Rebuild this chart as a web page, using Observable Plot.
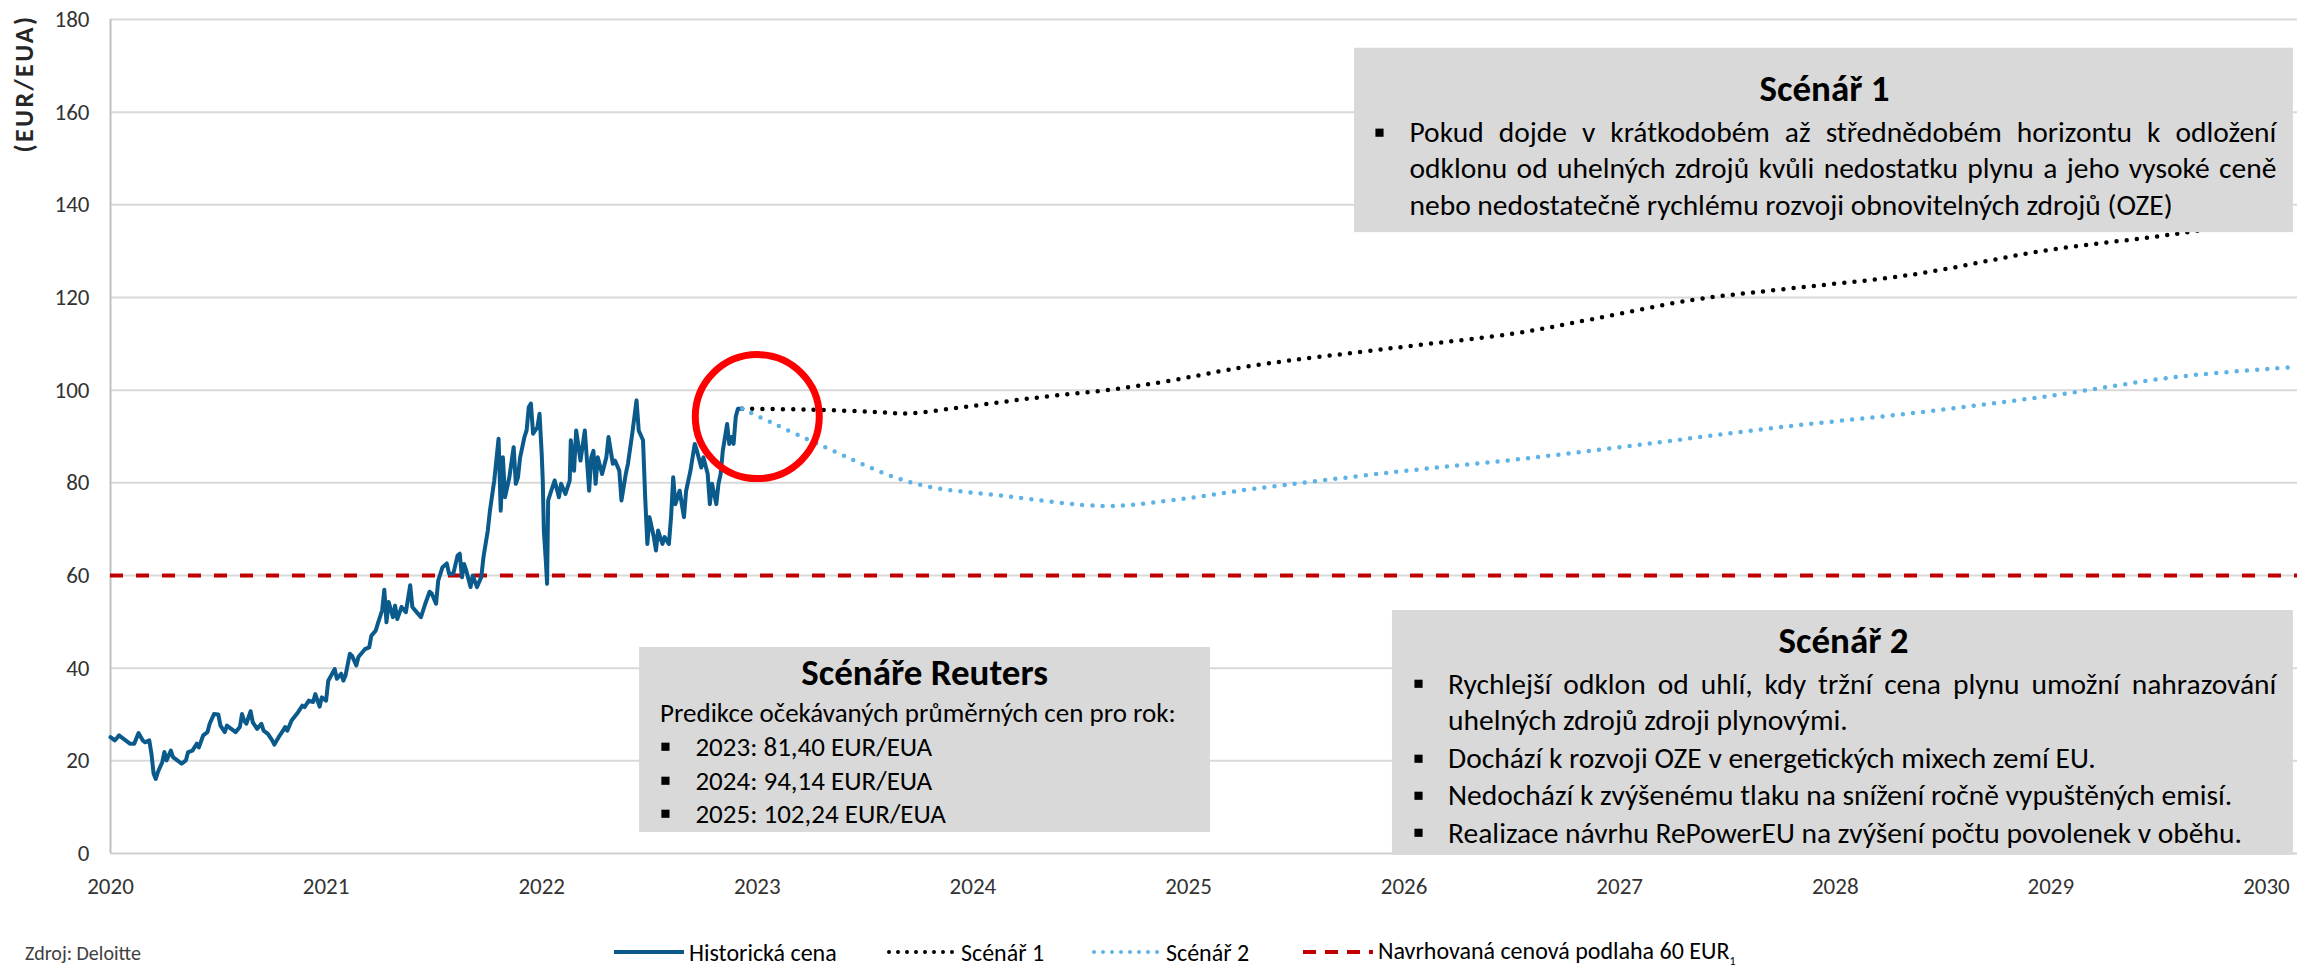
<!DOCTYPE html>
<html>
<head>
<meta charset="utf-8">
<script src="https://cdn.jsdelivr.net/npm/d3@7"></script>
<script src="https://cdn.jsdelivr.net/npm/@observablehq/plot@0.6"></script>
<style>
  html, body { margin: 0; padding: 0; background: #fff; }
  body { width: 2297px; height: 967px; overflow: hidden; position: relative; font-family: Carlito, Calibri, Lato, sans-serif; }
  #chart { position: absolute; left: 0; top: 0; }
  #legend { position: absolute; left: 0; top: 0; width: 2297px; height: 967px; pointer-events: none; }
  .item { position: absolute; top: 937px; height: 30px; display: flex; align-items: center; font-size: 24px; color: #000; white-space: nowrap; }
  .item svg { margin-right: 5px; }
  #source { position: absolute; left: 25px; top: 941px; font-size: 20px; line-height: 24px; color: #404040; white-space: nowrap; }
</style>
</head>
<body>
<div id="chart"></div>
<div id="legend"></div>
<script>
// ---------- DATA ----------
const xTicks = [2020, 2021, 2022, 2023, 2024, 2025, 2026, 2027, 2028, 2029, 2030];
const yTicks = [0, 20, 40, 60, 80, 100, 120, 140, 160, 180];
const yLabel = "(EUR/EUA)";
const seriesNames = ["Historická cena", "Scénář 1", "Scénář 2", "Navrhovaná cenová podlaha 60 EUR"];
const priceFloor = 60;

// historical EUA price (decimal year, EUR/EUA)
const historicYears = [
  2020.00, 2020.02, 2020.04, 2020.05, 2020.07, 2020.09, 2020.11, 2020.13, 2020.15, 2020.16,
  2020.18, 2020.19, 2020.20, 2020.21, 2020.22, 2020.24, 2020.25, 2020.26, 2020.28, 2020.29,
  2020.31, 2020.33, 2020.35, 2020.36, 2020.38, 2020.40, 2020.41, 2020.43, 2020.45, 2020.46,
  2020.48, 2020.50, 2020.51, 2020.53, 2020.54, 2020.56, 2020.58, 2020.60, 2020.61, 2020.62,
  2020.63, 2020.65, 2020.66, 2020.68, 2020.70, 2020.71, 2020.73, 2020.75, 2020.76, 2020.78,
  2020.80, 2020.81, 2020.82, 2020.84, 2020.87, 2020.89, 2020.90, 2020.92, 2020.94, 2020.95,
  2020.97, 2020.98, 2021.00, 2021.01, 2021.04, 2021.05, 2021.07, 2021.08, 2021.09, 2021.11,
  2021.12, 2021.14, 2021.15, 2021.18, 2021.20, 2021.21, 2021.23, 2021.24, 2021.26, 2021.27,
  2021.28, 2021.29, 2021.31, 2021.32, 2021.33, 2021.35, 2021.37, 2021.39, 2021.40, 2021.42,
  2021.44, 2021.46, 2021.48, 2021.49, 2021.51, 2021.52, 2021.54, 2021.56, 2021.57, 2021.59,
  2021.61, 2021.62, 2021.63, 2021.64, 2021.65, 2021.67, 2021.68, 2021.70, 2021.72, 2021.73,
  2021.75, 2021.76, 2021.78, 2021.80, 2021.81, 2021.82, 2021.83, 2021.85, 2021.87, 2021.88,
  2021.89, 2021.90, 2021.92, 2021.93, 2021.94, 2021.95, 2021.96, 2021.98, 2021.99, 2022.00,
  2022.005, 2022.01, 2022.02, 2022.025, 2022.03, 2022.05, 2022.06, 2022.08, 2022.09, 2022.11,
  2022.13, 2022.135, 2022.15, 2022.16, 2022.18, 2022.20, 2022.22, 2022.23, 2022.24, 2022.25,
  2022.26, 2022.28, 2022.30, 2022.31, 2022.33, 2022.34, 2022.36, 2022.37, 2022.39, 2022.40,
  2022.42, 2022.44, 2022.45, 2022.47, 2022.48, 2022.49, 2022.50, 2022.52, 2022.53, 2022.54,
  2022.56, 2022.57, 2022.59, 2022.60, 2022.61, 2022.62, 2022.64, 2022.65, 2022.66, 2022.67,
  2022.69, 2022.71, 2022.72, 2022.74, 2022.75, 2022.77, 2022.78, 2022.79, 2022.81, 2022.82,
  2022.83, 2022.84, 2022.86, 2022.87, 2022.88, 2022.89, 2022.90, 2022.91, 2022.93
];
const historicPrices = [
  25.1, 24.4, 25.5, 25.1, 24.4, 23.7, 23.7, 26.0, 24.4, 24.0,
  24.4, 21.5, 17.2, 16.1, 17.6, 19.7, 21.9, 20.1, 22.2, 20.8,
  20.1, 19.4, 20.1, 21.9, 22.2, 23.7, 22.9, 25.5, 26.2, 28.0,
  30.1, 30.0, 27.6, 26.2, 27.6, 26.9, 26.2, 27.3, 30.1, 28.7,
  28.0, 30.7, 28.3, 26.9, 28.0, 26.5, 25.8, 24.4, 23.5, 25.1,
  26.5, 27.3, 26.5, 28.7, 30.5, 31.9, 31.6, 33.0, 32.7, 34.4,
  31.7, 33.7, 33.0, 37.3, 39.8, 37.7, 38.8, 37.3, 38.4, 43.1,
  42.7, 40.6, 42.4, 44.1, 44.5, 47.0, 48.1, 49.6, 52.5, 56.9,
  49.9, 54.3, 51.0, 53.5, 50.6, 53.2, 52.1, 57.9, 53.2, 52.1,
  51.0, 53.9, 56.5, 56.1, 53.9, 58.9, 61.8, 62.6, 60.4, 60.4,
  64.3, 64.7, 59.6, 62.5, 61.1, 57.5, 60.0, 57.5, 59.7, 64.0,
  69.7, 74.0, 80.5, 89.5, 74.0, 85.5, 76.9, 81.2, 87.7, 79.8,
  81.2, 85.5, 89.9, 91.3, 96.3, 97.1, 90.6, 92.0, 94.9, 86.3,
  80.5, 69.7, 62.5, 58.2, 76.2, 79.1, 80.5, 76.9, 79.8, 77.6,
  80.5, 89.2, 82.6, 91.3, 84.8, 91.3, 78.3, 85.5, 86.9, 79.8,
  85.5, 81.9, 85.5, 89.9, 84.1, 84.8, 82.6, 76.2, 81.9, 84.1,
  90.6, 97.8, 91.3, 89.2, 76.9, 66.8, 72.6, 68.3, 65.4, 69.7,
  66.8, 68.3, 66.8, 72.6, 81.2, 75.4, 78.3, 75.4, 72.6, 78.3,
  82.6, 88.4, 86.9, 83.3, 85.5, 81.9, 75.4, 79.8, 75.4, 79.8,
  81.9, 86.9, 92.7, 88.4, 89.9, 88.4, 94.2, 96.0, 96.0
];

// scenario 1
const scenario1Years  = [2022.93, 2023.25, 2023.55, 2023.70, 2023.93, 2024.16, 2024.39, 2024.64, 2024.92, 2025.30, 2025.95, 2026.52, 2026.88, 2027.34, 2027.74, 2028.35, 2028.97, 2029.59, 2030.14];
const scenario1Prices = [96.0,    95.8,    95.3,    95.0,    96.2,    97.6,    98.9,    100.1,   102.1,   105.3,   109.1,   112.3,   115.4,   119.5,   121.7,   124.9,   130.1,   133.8,   137.9];
// scenario 2
const scenario2Years  = [2022.93, 2023.28, 2023.72, 2024.16, 2024.62, 2024.93, 2025.30, 2025.95, 2026.57, 2027.19, 2027.74, 2028.35, 2028.97, 2029.59, 2030.14];
const scenario2Prices = [96.0,    88.4,    80.0,    77.1,    75.0,    76.3,    78.7,    82.3,    85.3,    88.8,    92.0,    95.0,    98.6,    102.9,   105.0];

// highlighted point (red circle)
const highlightYear = 2023.0;
const highlightPrice = 94.3;

// annotation texts
const box1Title = "Scénář 1";
const box1Lines = [
  "Pokud dojde v krátkodobém až střednědobém horizontu k odložení",
  "odklonu od uhelných zdrojů kvůli nedostatku plynu a jeho vysoké ceně",
  "nebo nedostatečně rychlému rozvoji obnovitelných zdrojů (OZE)"
];
const box2Title = "Scénáře Reuters";
const box2Intro = "Predikce očekávaných průměrných cen pro rok:";
const box2Lines = ["2023: 81,40 EUR/EUA", "2024: 94,14 EUR/EUA", "2025: 102,24 EUR/EUA"];
const box3Title = "Scénář 2";
const box3Lines = [
  "Rychlejší odklon od uhlí, kdy tržní cena plynu umožní nahrazování",
  "uhelných zdrojů zdroji plynovými.",
  "Dochází k rozvoji OZE v energetických mixech zemí EU.",
  "Nedochází k zvýšenému tlaku na snížení ročně vypuštěných emisí.",
  "Realizace návrhu RePowerEU na zvýšení počtu povolenek v oběhu."
];
const sourceText = "Zdroj: Deloitte";

// ---------- LAYOUT / STYLE (annotation anchors in data units) ----------
const FONT = "Carlito, Calibri, Lato, sans-serif";
const C_HIST = "#0b5a8c", C_S1 = "#000000", C_S2 = "#5eb3e6", C_FLOOR = "#c00000", C_BOX = "#d9d9d9";
const BODY_BIG = 29.5, BODY_SMALL = 27, TITLE = 37;

const historic = historicYears.map((x, i) => ({x, y: historicPrices[i]}));
const s1 = scenario1Years.map((x, i) => ({x, y: scenario1Prices[i]}));
const s2 = scenario2Years.map((x, i) => ({x, y: scenario2Prices[i]}));

const L1 = {x1: 2025.770, x2: 2030.125, y1: 134.0, y2: 173.8, tx: 2027.95, ty: 162.5,
            bx: 2025.886, lx: 2026.025, rx: 2030.046, base: [153.47, 145.70, 137.71], bullets: [0]};
const L2 = {x1: 2022.454, x2: 2025.102, y1: 4.53, y2: 44.46, tx: 2023.776, ty: 36.26,
            ix: 2022.549, iy: 28.28, bx: 2022.574, lx: 2022.713, base: [20.94, 13.60, 6.48]};
const L3 = {x1: 2025.946, x2: 2030.125, y1: -0.43, y2: 52.45, tx: 2028.038, ty: 43.38,
            bx: 2026.067, lx: 2026.204, rx: 2030.046, base: [34.53, 26.55, 18.35, 10.36, 2.37], bullets: [0, 2, 3, 4]};
const BULLET_UP = 2.1;

const boxes = [L1, L2, L3];
const titles = [
  {x: L1.tx, y: L1.ty, t: box1Title},
  {x: L2.tx, y: L2.ty, t: box2Title},
  {x: L3.tx, y: L3.ty, t: box3Title}
];
const bigLines = [
  ...box1Lines.map((t, i) => ({x: L1.lx, y: L1.base[i], t})),
  ...box3Lines.map((t, i) => ({x: L3.lx, y: L3.base[i], t}))
];
const smallLines = [
  {x: L2.ix, y: L2.iy, t: box2Intro},
  ...box2Lines.map((t, i) => ({x: L2.lx, y: L2.base[i], t}))
];
const bullets = [
  ...L1.bullets.map(i => ({x: L1.bx, y: L1.base[i] + BULLET_UP})),
  ...L2.base.map(b => ({x: L2.bx, y: b + BULLET_UP})),
  ...L3.bullets.map(i => ({x: L3.bx, y: L3.base[i] + BULLET_UP}))
];
// justified lines: text -> [startX, rightX]
const justified = new Map([
  [box1Lines[0], [L1.lx, L1.rx]],
  [box1Lines[1], [L1.lx, L1.rx]],
  [box3Lines[0], [L3.lx, L3.rx]]
]);

const plot = Plot.plot({
  width: 2297,
  height: 920,
  marginLeft: 110,
  marginRight: 0,
  marginTop: 19,
  marginBottom: 67,
  style: {fontFamily: FONT, background: "#fff", overflow: "visible"},
  x: {domain: [2020, 2030.144], ticks: xTicks},
  y: {domain: [0, 180], ticks: yTicks},
  marks: [
    Plot.gridY(yTicks.filter(d => d > 0), {stroke: "#d9d9d9", strokeOpacity: 1, strokeWidth: 2}),
    Plot.ruleY([0], {stroke: "#d0d0d0", strokeWidth: 2}),
    Plot.ruleX([2020], {stroke: "#c0c0c0", strokeWidth: 2}),
    Plot.axisY(yTicks, {tickSize: 0, tickPadding: 21, fontSize: 23, fill: "#333", label: null}),
    Plot.axisX(xTicks, {tickSize: 0, tickPadding: 24, fontSize: 23, fill: "#333", tickFormat: d => String(d), label: null}),
    Plot.text([yLabel], {frameAnchor: "top-left", dx: -86, dy: 64, rotate: -90, text: d => d,
      fontSize: 26, fontWeight: "bold", fill: "#262626", textAnchor: "middle", lineAnchor: "middle"}),
    Plot.ruleY([priceFloor], {stroke: C_FLOOR, strokeWidth: 4, strokeDasharray: "13,13"}),
    Plot.line(historic, {x: "x", y: "y", stroke: C_HIST, strokeWidth: 4, strokeLinejoin: "round"}),
    Plot.line(s1, {x: "x", y: "y", curve: "catmull-rom", stroke: C_S1, strokeWidth: 4.5,
      strokeDasharray: "0,10.2", strokeLinecap: "round"}),
    Plot.line(s2, {x: "x", y: "y", curve: "catmull-rom", stroke: C_S2, strokeWidth: 4.5,
      strokeDasharray: "0,10.2", strokeLinecap: "round"}),
    Plot.dot([{x: highlightYear, y: highlightPrice}], {x: "x", y: "y", r: 62, stroke: "#ff0000", strokeWidth: 7, fill: "none"}),
    Plot.rect(boxes, {x1: "x1", x2: "x2", y1: "y1", y2: "y2", fill: C_BOX}),
    Plot.text(titles, {x: "x", y: "y", text: "t", fontSize: TITLE, fontWeight: "bold", fill: "#000",
      textAnchor: "middle", lineAnchor: "bottom"}),
    Plot.text(bigLines, {x: "x", y: "y", text: "t", fontSize: BODY_BIG, fill: "#000",
      textAnchor: "start", lineAnchor: "bottom"}),
    Plot.text(smallLines, {x: "x", y: "y", text: "t", fontSize: BODY_SMALL, fill: "#000",
      textAnchor: "start", lineAnchor: "bottom"}),
    Plot.dot(bullets, {x: "x", y: "y", symbol: "square", r: 4.6, fill: "#000", stroke: "none"})
  ]
});

document.getElementById("chart").append(plot);

// justify the lines that are justified in the original boxes; space out the axis title
const xs = plot.scale("x");
plot.querySelectorAll("text").forEach(t => {
  if (t.textContent === yLabel) { t.style.letterSpacing = "2.4px"; return; }
  const j = justified.get(t.textContent);
  if (!j) return;
  const target = xs.apply(j[1]) - xs.apply(j[0]);
  const len = t.getComputedTextLength();
  const n = (t.textContent.match(/ /g) || []).length;
  if (n && target > len) t.style.wordSpacing = ((target - len) / n) + "px";
});

// ---------- LEGEND (below the chart) ----------
const legendStyles = [
  {stroke: C_HIST, dash: null, cap: "butt", w: 4},
  {stroke: C_S1, dash: "0,9", cap: "round", w: 4},
  {stroke: C_S2, dash: "0,9", cap: "round", w: 4},
  {stroke: C_FLOOR, dash: "13,9", cap: "butt", w: 4}
];
const legendLeft = [614, 886, 1091, 1303];
const legend = document.getElementById("legend");
seriesNames.forEach((name, i) => {
  const s = legendStyles[i];
  const item = document.createElement("div");
  item.className = "item";
  item.style.left = legendLeft[i] + "px";
  item.innerHTML = `<svg width="70" height="10"><line x1="${s.cap === "round" ? 3 : 0}" x2="${s.cap === "round" ? 67 : 70}" y1="5" y2="5" stroke="${s.stroke}" stroke-width="${s.w}" ${s.dash ? `stroke-dasharray="${s.dash}"` : ""} stroke-linecap="${s.cap}"/></svg><span>${name}${i === 3 ? '<sub style="font-size:12px">1</sub>' : ""}</span>`;
  legend.append(item);
});
const src = document.createElement("div");
src.id = "source";
src.textContent = sourceText;
legend.append(src);
</script>
</body>
</html>
